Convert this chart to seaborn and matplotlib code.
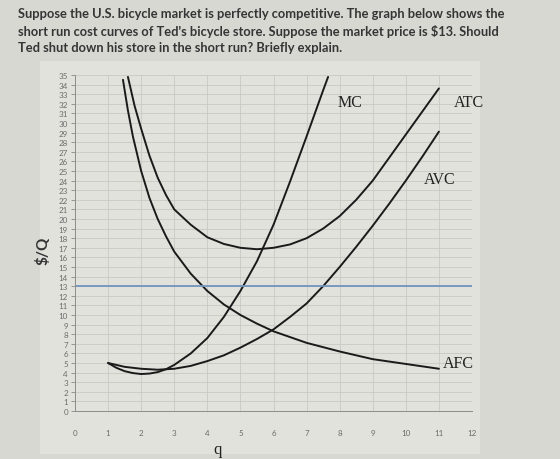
import pandas as pd
import matplotlib
matplotlib.use("Agg")
import matplotlib.pyplot as plt
import seaborn as sns

# values
mc_q = [1, 1.25, 1.5, 1.75, 2, 2.25, 2.5, 2.75, 3, 3.5, 4, 4.5, 5, 5.5, 6, 6.5, 7, 7.5, 7.65]
mc = [5.0, 4.5, 4.15, 3.95, 3.85, 3.9, 4.05, 4.35, 4.8, 6.0, 7.6, 9.8, 12.5, 15.6, 19.4, 23.9, 28.6, 33.4, 34.8]

avc_q = [1, 1.5, 2, 2.5, 3, 3.5, 4, 4.5, 5, 5.5, 6, 6.5, 7, 7.5, 8, 8.5, 9, 9.5, 10, 10.5, 11]
avc = [5.0, 4.6, 4.4, 4.3, 4.4, 4.7, 5.2, 5.8, 6.6, 7.5, 8.5, 9.8, 11.2, 13.0, 15.0, 17.1, 19.3, 21.6, 24.0, 26.5, 29.1]

atc_q = [1.6, 1.8, 2, 2.25, 2.5, 2.75, 3, 3.5, 4, 4.5, 5, 5.5, 6, 6.5, 7, 7.5, 8, 8.5, 9, 9.5, 10, 10.5, 11]
atc = [34.8, 31.8, 29.4, 26.6, 24.3, 22.5, 21.0, 19.4, 18.1, 17.4, 17.0, 16.85, 17.0, 17.35, 18.0, 19.0,
       20.3, 22.0, 24.0, 26.4, 28.8, 31.2, 33.6]

afc_q = [1.45, 1.6, 1.75, 2, 2.25, 2.5, 2.75, 3, 3.5, 4, 4.5, 5, 5.5, 6, 7, 8, 9, 10, 11]
afc = [34.5, 31.3, 28.6, 25.0, 22.2, 20.0, 18.2, 16.6, 14.3, 12.5, 11.1, 10.0, 9.1, 8.3, 7.1, 6.2, 5.4, 4.9, 4.4]

price = 13

question = ("Suppose the U.S. bicycle market is perfectly competitive. The graph below shows the\n"
            "short run cost curves of Ted's bicycle store. Suppose the market price is $13. Should\n"
            "Ted shut down his store in the short run? Briefly explain.")

frames = []
for name, qs, vals in [("MC", mc_q, mc), ("AVC", avc_q, avc), ("ATC", atc_q, atc), ("AFC", afc_q, afc)]:
    frames.append(pd.DataFrame({"q": qs, "cost": vals, "curve": name}))
df = pd.concat(frames, ignore_index=True)

sns.set_theme(style="whitegrid")
plt.rcParams["font.family"] = ["Lato", "DejaVu Sans"]

fig = plt.figure(figsize=(5.6, 4.6), dpi=100, facecolor="#d8d8d2")

# lighter chart panel behind the plot
bg = fig.add_axes([40 / 560, 5 / 460, 440 / 560, 393 / 460], zorder=-1)
bg.set_facecolor("#e2e2dc")
bg.set_xticks([])
bg.set_yticks([])
for s in bg.spines.values():
    s.set_visible(False)

ax = fig.add_axes([75 / 560, 48 / 460, 397 / 560, 336 / 460])
ax.set_facecolor("#e2e2dc")

sns.lineplot(data=df, x="q", y="cost", hue="curve", units="curve", estimator=None, sort=False,
             palette={"MC": "#1a1a1a", "AVC": "#1a1a1a", "ATC": "#1a1a1a", "AFC": "#1a1a1a"},
             linewidth=1.4, legend=False, ax=ax)
ax.axhline(price, color="#7393bd", linewidth=1.3)

ax.set_xlim(0, 12)
ax.set_ylim(0, 35)
ax.set_xticks(range(0, 13))
ax.set_yticks(range(0, 36))
ax.tick_params(axis="y", labelsize=5.8, labelcolor="#6b6b6b", length=3, width=0.6, color="#888888", pad=2, left=True)
ax.tick_params(axis="x", labelsize=5.8, labelcolor="#6b6b6b", length=0, pad=13)
ax.grid(True, color="#c9c9c3", linewidth=0.6)
for side in ["top", "right"]:
    ax.spines[side].set_visible(False)
ax.spines["left"].set_color("#8c8c8c")
ax.spines["bottom"].set_color("#8c8c8c")
ax.spines["left"].set_linewidth(0.7)
ax.spines["bottom"].set_linewidth(0.7)

ax.set_xlabel("q", fontsize=12, family=["Liberation Serif"], color="#222222", labelpad=2)
ax.xaxis.set_label_coords(0.36, -0.09)
ax.set_ylabel("$/Q", fontsize=11, fontweight="bold", color="#333333")
ax.yaxis.set_label_coords(-0.063, 0.48)

serif = ["Liberation Serif", "DejaVu Serif"]
ax.text(7.95, 32.2, "MC", fontsize=11.5, family=serif, color="#222222", va="center")
ax.text(11.45, 32.2, "ATC", fontsize=11.5, family=serif, color="#222222", va="center")
ax.text(10.55, 24.2, "AVC", fontsize=11.5, family=serif, color="#222222", va="center")
ax.text(11.12, 5.0, "AFC", fontsize=11.5, family=serif, color="#222222", va="center")

fig.text(18 / 560, 1 - 8 / 460, question, fontsize=9.3, color="#353535", va="top", ha="left",
         linespacing=1.42, fontweight="bold")

fig.savefig("out.png", dpi=100, facecolor=fig.get_facecolor())
